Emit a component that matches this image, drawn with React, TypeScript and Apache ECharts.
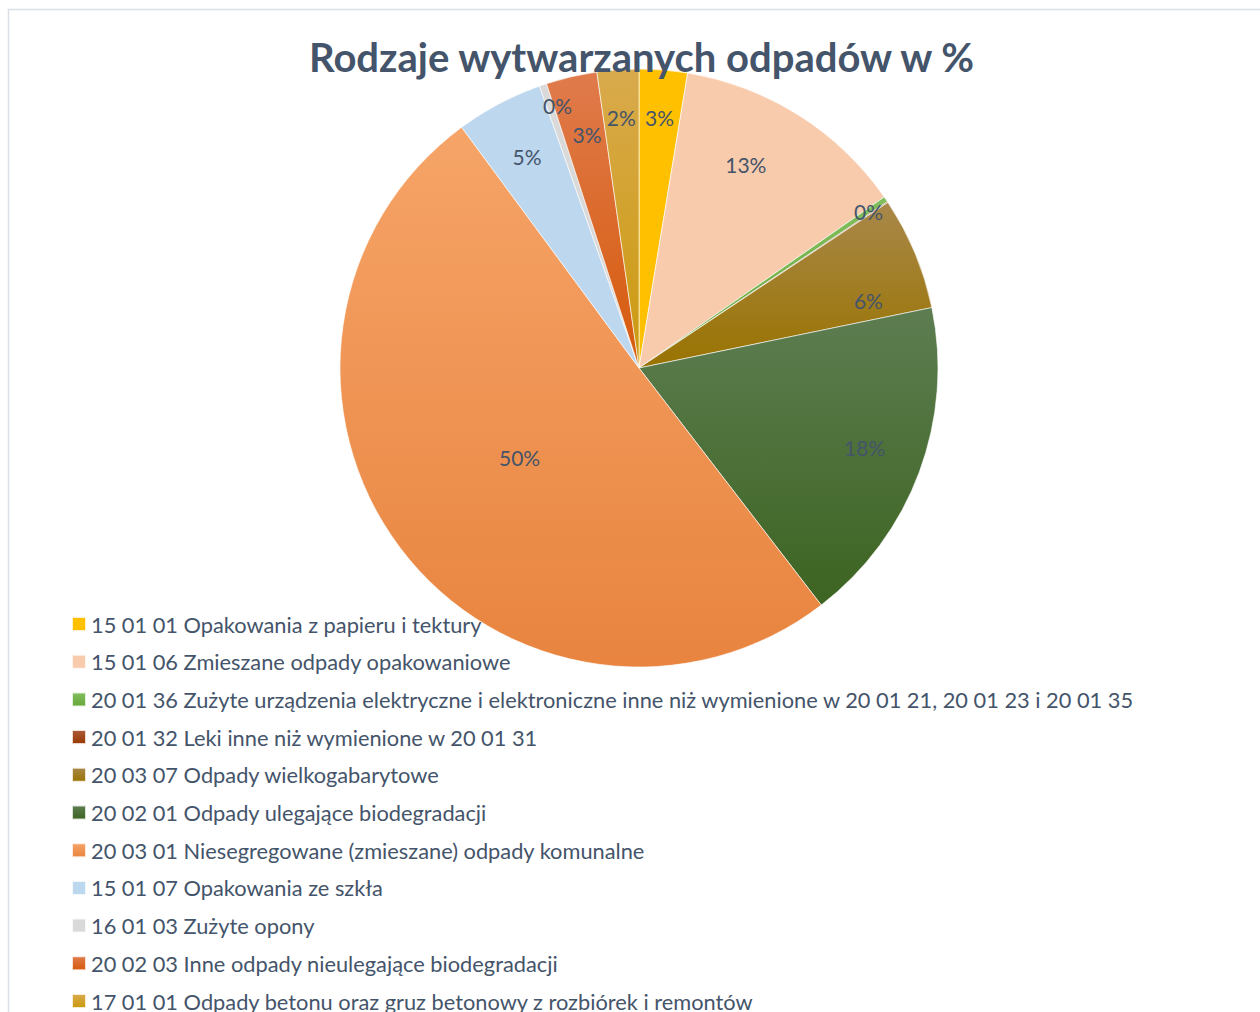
import React, { useEffect, useRef } from "react";
import * as echarts from "echarts";

const TITLE = "Rodzaje wytwarzanych odpadów w %";

const CATEGORIES = [
  "15 01 01 Opakowania z papieru i tektury",
  "15 01 06 Zmieszane odpady opakowaniowe",
  "20 01 36 Zużyte urządzenia elektryczne i elektroniczne inne niż wymienione w 20 01 21, 20 01 23 i 20 01 35",
  "20 01 32 Leki inne niż wymienione w 20 01 31",
  "20 03 07 Odpady wielkogabarytowe",
  "20 02 01 Odpady ulegające biodegradacji",
  "20 03 01 Niesegregowane (zmieszane) odpady komunalne",
  "15 01 07 Opakowania ze szkła",
  "16 01 03 Zużyte opony",
  "20 02 03 Inne odpady nieulegające biodegradacji",
  "17 01 01 Odpady betonu oraz gruz betonowy z rozbiórek i remontów",
];

const VALUES = [2.6, 12.7, 0.3, 0.05, 6.1, 17.8, 50.3, 4.7, 0.4, 2.75, 2.25];

// gradient colours (top, bottom) per slice
const COLOR_TOP = [
  "#FFC000", "#F8CBAD", "#82BE5E", "#AC5A3A", "#A9884A", "#5D7D51",
  "#F6A468", "#BDD7EE", "#D9D9D9", "#E07B4C", "#D9AA4C",
];
const COLOR_BOTTOM = [
  "#FFC000", "#F8CBAD", "#66A83B", "#983800", "#997300", "#3D6421",
  "#E8843F", "#BDD7EE", "#D9D9D9", "#D65A0B", "#CB9A0E",
];

// label placement ("best fit"): radial fraction of radius and angular shift in degrees
const LABEL_RADIAL = [0.84, 0.77, 0.93, 0.93, 0.8, 0.8, 0.5, 0.8, 0.92, 0.8, 0.84];
const LABEL_ANGLE_SHIFT = [0, -4.6, 0, 0, 6.2, -1, 0, 0, 1.5, 0.5, 0];

const CX = 639;
const CY = 368;
const R = 299;
const TEXT_COLOR = "#44546A";
const FONT = "Lato, 'Open Sans', sans-serif";

export default function App() {
  const ref = useRef<HTMLDivElement>(null);

  useEffect(() => {
    document.body.style.margin = "0";
    const chart = echarts.init(ref.current!, null, { renderer: "svg" });

    const data = CATEGORIES.map((name, i) => ({
      name,
      value: VALUES[i],
      label: { show: i !== 3 },
      itemStyle: {
        color: new echarts.graphic.LinearGradient(0, 0, 0, 1, [
          { offset: 0, color: COLOR_TOP[i] },
          { offset: 1, color: COLOR_BOTTOM[i] },
        ]),
      },
    }));

    chart.setOption({
      animation: false,
      backgroundColor: "#ffffff",
      title: {
        text: TITLE,
        left: 309,
        top: 37,
        padding: 0,
        textStyle: {
          color: TEXT_COLOR,
          fontFamily: FONT,
          fontWeight: "bold",
          fontSize: 40,
        },
      },
      legend: {
        orient: "vertical",
        left: 71,
        top: 613,
        height: 600,
        padding: 0,
        itemWidth: 14,
        itemHeight: 14,
        itemGap: 15.7,
        icon: "rect",
        data: CATEGORIES,
        textStyle: {
          color: TEXT_COLOR,
          fontFamily: FONT,
          fontSize: 21.8,
          lineHeight: 22,
        },
      },
      graphic: [
        {
          type: "rect",
          shape: { x: 8.5, y: 9.5, width: 1400, height: 1200 },
          style: { fill: "none", stroke: "#DCE0E7", lineWidth: 1.5 },
          silent: true,
          z: -10,
        },
      ],
      series: [
        {
          type: "pie",
          center: [CX, CY],
          radius: R,
          startAngle: 90,
          clockwise: true,
          avoidLabelOverlap: false,
          itemStyle: { borderColor: "rgba(255,255,255,0.8)", borderWidth: 0.75 },
          label: {
            position: "inside",
            formatter: (p: any) => Math.round(p.percent) + "%",
            color: TEXT_COLOR,
            fontFamily: FONT,
            fontSize: 21,
          },
          labelLine: { show: false },
          labelLayout: (params: any) => {
            const i = params.dataIndex;
            const r = params.labelRect;
            const lx = r.x + r.width / 2;
            const ly = r.y + r.height / 2;
            const theta =
              Math.atan2(lx - CX, -(ly - CY)) + (LABEL_ANGLE_SHIFT[i] * Math.PI) / 180;
            const rho = LABEL_RADIAL[i] * R;
            return { x: CX + rho * Math.sin(theta), y: CY - rho * Math.cos(theta) };
          },
          data,
        },
      ],
    });

    return () => chart.dispose();
  }, []);

  return <div ref={ref} style={{ width: 1260, height: 1012 }} />;
}
